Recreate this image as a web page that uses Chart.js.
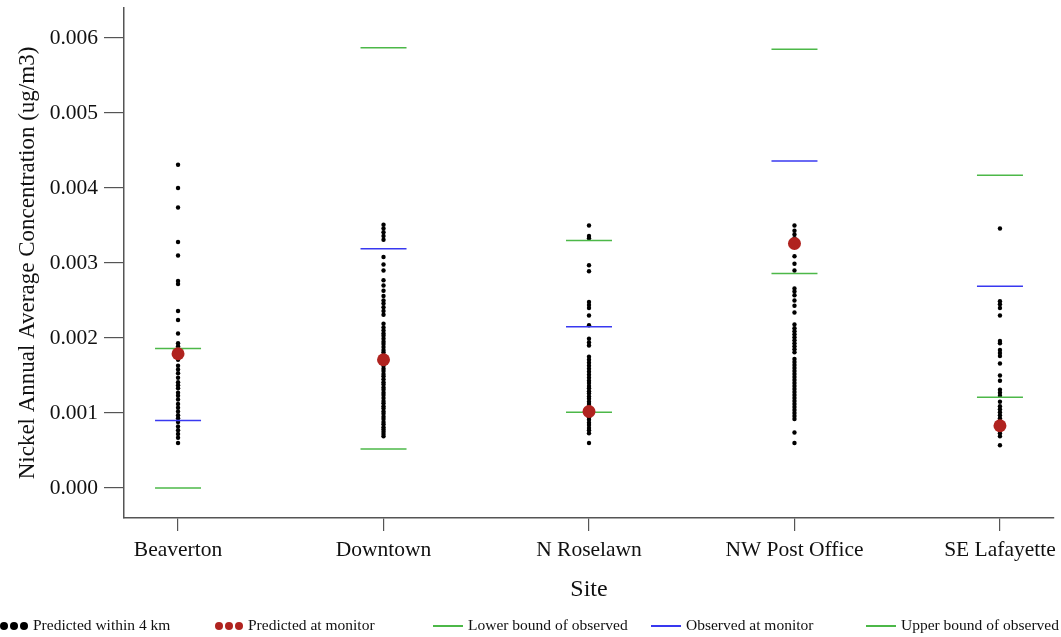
<!DOCTYPE html>
<html>
<head>
<meta charset="utf-8">
<script src="https://cdn.jsdelivr.net/npm/chart.js@4.4.1/dist/chart.umd.min.js"></script>
<style>
  body { margin: 0; background: #fff; }
  #wrap { position: relative; width: 1061px; height: 637px; }
  #legend { position: absolute; left: 0; top: 616px; width: 1061px; height: 20px;
            font-family: "Liberation Serif", serif; font-size: 15.5px; color: #111; }
  .item { position: absolute; top: 0; white-space: nowrap; line-height: 18px; }
  .dot { display: inline-block; width: 8px; height: 8px; border-radius: 50%; margin-right: 2px; vertical-align: middle; }
  .ln { display: inline-block; width: 30px; height: 0; border-top: 2px solid; vertical-align: middle; margin-right: 5px; }
</style>
</head>
<body>
<div id="wrap">
  <canvas id="chart-nickel" width="1061" height="637"></canvas>
  <div id="legend"></div>
</div>
<script>
'use strict';

// sites on the x axis (positions 1..5)
var sites = ["Beaverton", "Downtown", "N Roselawn", "NW Post Office", "SE Lafayette"];
var yTicks = [0, 0.001, 0.002, 0.003, 0.004, 0.005, 0.006];

// predicted within 4 km, one list per site
var beavertonNear = [0.00431, 0.00400, 0.00374, 0.00328, 0.00310, 0.00276, 0.00272, 0.00236, 0.00224, 0.00206,
    0.00193, 0.00189, 0.00185, 0.00181, 0.00176, 0.00171, 0.00163, 0.00158, 0.00153, 0.00147, 0.00141, 0.00137,
    0.00133, 0.00127, 0.00123, 0.00118, 0.00112, 0.00107, 0.00102, 0.00097, 0.00093, 0.00088, 0.00082, 0.00077,
    0.00072, 0.00067, 0.00060];
var downtownNear = [0.00351, 0.00346, 0.00341, 0.00336, 0.00331, 0.00308, 0.00298, 0.00290, 0.00277, 0.00270,
    0.00263, 0.00256, 0.00250, 0.00246, 0.00241, 0.00236, 0.00231, 0.00219, 0.00214, 0.00210, 0.00206, 0.00203,
    0.00199, 0.00195, 0.00192, 0.00188, 0.00184, 0.00181, 0.00177, 0.00174, 0.00170, 0.00167, 0.00163, 0.00159,
    0.00156, 0.00152, 0.00149, 0.00145, 0.00141, 0.00138, 0.00134, 0.00131, 0.00127, 0.00124, 0.00120, 0.00116,
    0.00113, 0.00109, 0.00106, 0.00102, 0.00099, 0.00095, 0.00092, 0.00088, 0.00085, 0.00081, 0.00078, 0.00075,
    0.00072, 0.00069];
var nRoselawnNear = [0.00350, 0.00336, 0.00333, 0.00297, 0.00289, 0.00248, 0.00244, 0.00240, 0.00230, 0.00217,
    0.00199, 0.00194, 0.00190, 0.00175, 0.00171, 0.00167, 0.00163, 0.00159, 0.00155, 0.00151, 0.00147, 0.00143,
    0.00140, 0.00136, 0.00133, 0.00129, 0.00126, 0.00122, 0.00119, 0.00115, 0.00112, 0.00108, 0.00105, 0.00101,
    0.00098, 0.00094, 0.00091, 0.00087, 0.00084, 0.00080, 0.00077, 0.00073, 0.00060];
var nwPostOfficeNear = [0.00350, 0.00343, 0.00338, 0.00333, 0.00309, 0.00299, 0.00290, 0.00266, 0.00262, 0.00257,
    0.00250, 0.00243, 0.00234, 0.00218, 0.00213, 0.00209, 0.00205, 0.00201, 0.00197, 0.00193, 0.00189, 0.00185,
    0.00181, 0.00172, 0.00168, 0.00164, 0.00160, 0.00156, 0.00152, 0.00148, 0.00144, 0.00140, 0.00136, 0.00132,
    0.00128, 0.00124, 0.00120, 0.00116, 0.00112, 0.00108, 0.00104, 0.00100, 0.00096, 0.00092, 0.00074, 0.00060];
var seLafayetteNear = [0.00346, 0.00249, 0.00245, 0.00240, 0.00230, 0.00196, 0.00193, 0.00184, 0.00180, 0.00176,
    0.00166, 0.00150, 0.00143, 0.00131, 0.00127, 0.00123, 0.00115, 0.00109, 0.00105, 0.00101, 0.00097, 0.00093,
    0.00089, 0.00085, 0.00081, 0.00077, 0.00073, 0.00069, 0.00057];

// one value per site
var predictedAtMonitor = [0.00179, 0.00171, 0.00102, 0.00326, 0.00083];
var lowerBound = [0.00000, 0.00052, 0.00101, 0.00286, 0.00121];
var observedAtMonitor = [0.00090, 0.00319, 0.00215, 0.00436, 0.00269];
var upperBound = [0.00186, 0.00587, 0.00330, 0.00585, 0.00417];

var GREEN = '#4cb848';
var BLUE = '#3838f0';
var RED = '#b0231f';

var nearLists = [beavertonNear, downtownNear, nRoselawnNear, nwPostOfficeNear, seLafayetteNear];
var nearPoints = [];
nearLists.forEach(function(list, i) {
    list.forEach(function(v) { nearPoints.push({x: i + 1, y: v}); });
});
function perSite(values) {
    return values.map(function(v, i) { return {x: i + 1, y: v}; });
}
function markerSet(label, values, color, order) {
    return {
        label: label,
        data: perSite(values),
        pointStyle: 'line',
        pointRadius: 23,
        pointBorderWidth: 1.6,
        pointBorderColor: color,
        borderColor: color,
        backgroundColor: color,
        order: order
    };
}

var font = "'Liberation Serif', 'Times New Roman', serif";
var axisColor = '#555';

var ctx = document.getElementById('chart-nickel').getContext('2d');
var nickelChart = new Chart(ctx, {
    type: 'scatter',
    data: {
        datasets: [
            {
                label: 'Predicted within 4 km',
                data: nearPoints,
                pointRadius: 2.2,
                pointBorderWidth: 0,
                backgroundColor: '#000',
                order: 3
            },
            {
                label: 'Predicted at monitor',
                data: perSite(predictedAtMonitor),
                pointRadius: 6.5,
                pointBorderWidth: 0,
                backgroundColor: RED,
                order: 1
            },
            markerSet('Lower bound of observed', lowerBound, GREEN, 2),
            markerSet('Observed at monitor', observedAtMonitor, BLUE, 2),
            markerSet('Upper bound of observed', upperBound, GREEN, 2)
        ]
    },
    options: {
        responsive: false,
        animation: false,
        events: [],
        layout: { autoPadding: false, padding: { top: 8, right: 7, left: 0, bottom: 0 } },
        plugins: {
            legend: { display: false },
            tooltip: { enabled: false }
        },
        scales: {
            x: {
                type: 'linear',
                min: 0.737,
                max: 5.263,
                afterBuildTicks: function(scale) {
                    scale.ticks = sites.map(function(s, i) { return {value: i + 1}; });
                },
                afterFit: function(scale) {
                    scale.height = 119;
                    scale.paddingLeft = 0;
                    scale.paddingRight = 0;
                },
                grid: { drawOnChartArea: false, drawTicks: true, tickLength: 13, color: axisColor, lineWidth: 1.2 },
                border: { display: true, color: axisColor, width: 1.5 },
                ticks: {
                    padding: 6,
                    color: '#111',
                    font: { family: font, size: 21.5 },
                    maxRotation: 0,
                    callback: function(v) { return sites[v - 1]; }
                },
                title: {
                    display: true,
                    text: 'Site',
                    color: '#111',
                    font: { family: font, size: 24 },
                    padding: { top: 0, bottom: 33 }
                }
            },
            y: {
                min: -0.0004,
                max: 0.0064,
                afterBuildTicks: function(scale) {
                    scale.ticks = yTicks.map(function(v) { return {value: v}; });
                },
                afterFit: function(scale) {
                    scale.width = 124;
                    scale.paddingTop = 0;
                    scale.paddingBottom = 0;
                },
                grid: { drawOnChartArea: false, drawTicks: true, tickLength: 20, color: axisColor, lineWidth: 1.2 },
                border: { display: true, color: axisColor, width: 1.5 },
                ticks: {
                    padding: 6,
                    color: '#111',
                    font: { family: font, size: 21.5 },
                    callback: function(v) { return v.toFixed(3); }
                },
                title: {
                    display: true,
                    text: 'Nickel Annual Average Concentration (ug/m3)',
                    color: '#111',
                    font: { family: font, size: 23 },
                    padding: { top: 14, bottom: 0 }
                }
            }
        }
    }
});

// legend underneath, laid out like the original
var legendItems = [
    { text: 'Predicted within 4 km', kind: 'dots', color: '#000', left: 0 },
    { text: 'Predicted at monitor', kind: 'dots', color: RED, left: 215 },
    { text: 'Lower bound of observed', kind: 'line', color: GREEN, left: 433 },
    { text: 'Observed at monitor', kind: 'line', color: BLUE, left: 651 },
    { text: 'Upper bound of observed', kind: 'line', color: GREEN, left: 866 }
];
var legendEl = document.getElementById('legend');
legendItems.forEach(function(item) {
    var div = document.createElement('div');
    div.className = 'item';
    div.style.left = item.left + 'px';
    var marker = '';
    if (item.kind === 'dots') {
        for (var i = 0; i < 3; i++) {
            marker += '<span class="dot" style="background:' + item.color + '"></span>';
        }
        marker += '<span style="display:inline-block;width:3px"></span>';
    } else {
        marker = '<span class="ln" style="border-color:' + item.color + '"></span>';
    }
    div.innerHTML = marker + '<span>' + item.text + '</span>';
    legendEl.appendChild(div);
});
</script>
</body>
</html>
